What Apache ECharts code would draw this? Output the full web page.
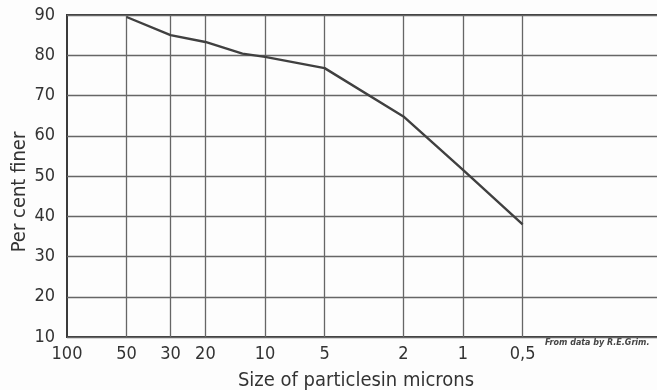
<!DOCTYPE html>
<html>
<head>
<meta charset="utf-8">
<script src="https://cdn.jsdelivr.net/npm/echarts@6/dist/echarts.min.js"></script>
<style>
html,body{margin:0;padding:0;background:#fdfdfd;}
#c{width:657px;height:390px;}
</style>
</head>
<body>
<div id="c"></div>
<script>
// Particle sizes (microns) and cumulative per cent finer
const sizes = [50, 30, 20, 13, 10, 5, 2, 1, 0.5];
const perCentFiner = [89.5, 85, 83.3, 80.4, 79.6, 76.8, 64.8, 51.5, 38];
// Axis tick labels
const xTicks = [100, 50, 30, 20, 10, 5, 2, 1, 0.5];
const xGridValues = [50, 30, 20, 10, 5, 2, 1, 0.5];
const yTicks = [10, 20, 30, 40, 50, 60, 70, 80, 90];

const FONT = "'DejaVu Sans Condensed','Liberation Sans Narrow',sans-serif";
const NAMEFONT = "'DejaVu Sans Condensed','DejaVu Sans',sans-serif";
const chart = echarts.init(document.getElementById('c'), null, {renderer: 'canvas'});

chart.setOption({
  backgroundColor: '#fdfdfd',
  animation: false,
  grid: {left: 67, top: 15, right: -4, bottom: 53, outerBoundsMode: 'none', containLabel: false,
         show: true, borderColor: '#3a3a3a', borderWidth: 2, backgroundColor: 'transparent'},
  xAxis: {
    type: 'log', logBase: 10, min: 0.1, max: 100, inverse: true,
    axisLine: {show: false},
    axisTick: {show: false},
    splitLine: {show: false},
    axisLabel: {
      customValues: xTicks,
      color: '#333', fontFamily: FONT, fontSize: 18, margin: 8,
      formatter: v => String(v).replace('.', ',')
    },
    name: 'Size of particlesin microns', nameLocation: 'middle', nameGap: 34,
    nameTextStyle: {color: '#333', fontFamily: NAMEFONT, fontSize: 20, padding: [0, 16, 0, 0]}
  },
  yAxis: {
    type: 'value', min: 10, max: 90, interval: 10,
    axisLine: {show: false},
    axisTick: {show: false},
    splitLine: {show: true, lineStyle: {color: '#666', width: 1.3}},
    axisLabel: {color: '#333', fontFamily: FONT, fontSize: 18, margin: 12}
  },
  graphic: [{
    type: 'text', x: 20, y: 192, rotation: Math.PI / 2,
    style: {text: 'Per cent finer', fill: '#333', font: '20px ' + NAMEFONT, align: 'center', verticalAlign: 'middle'}
  }, {
    type: 'text', left: 545, top: 339,
    style: {text: 'From data by R.E.Grim.', fill: '#444', font: 'italic bold 8px "DejaVu Sans", sans-serif'}
  }],
  series: [{
    type: 'line',
    data: sizes.map((s, i) => [s, perCentFiner[i]]),
    symbol: 'none',
    lineStyle: {color: '#404040', width: 2.4},
    z: 5,
    markLine: {
      silent: true, symbol: 'none', label: {show: false},
      lineStyle: {color: '#666', width: 1.3, type: 'solid'},
      data: xGridValues.map(v => ({xAxis: v}))
    }
  }]
});
</script>
</body>
</html>
